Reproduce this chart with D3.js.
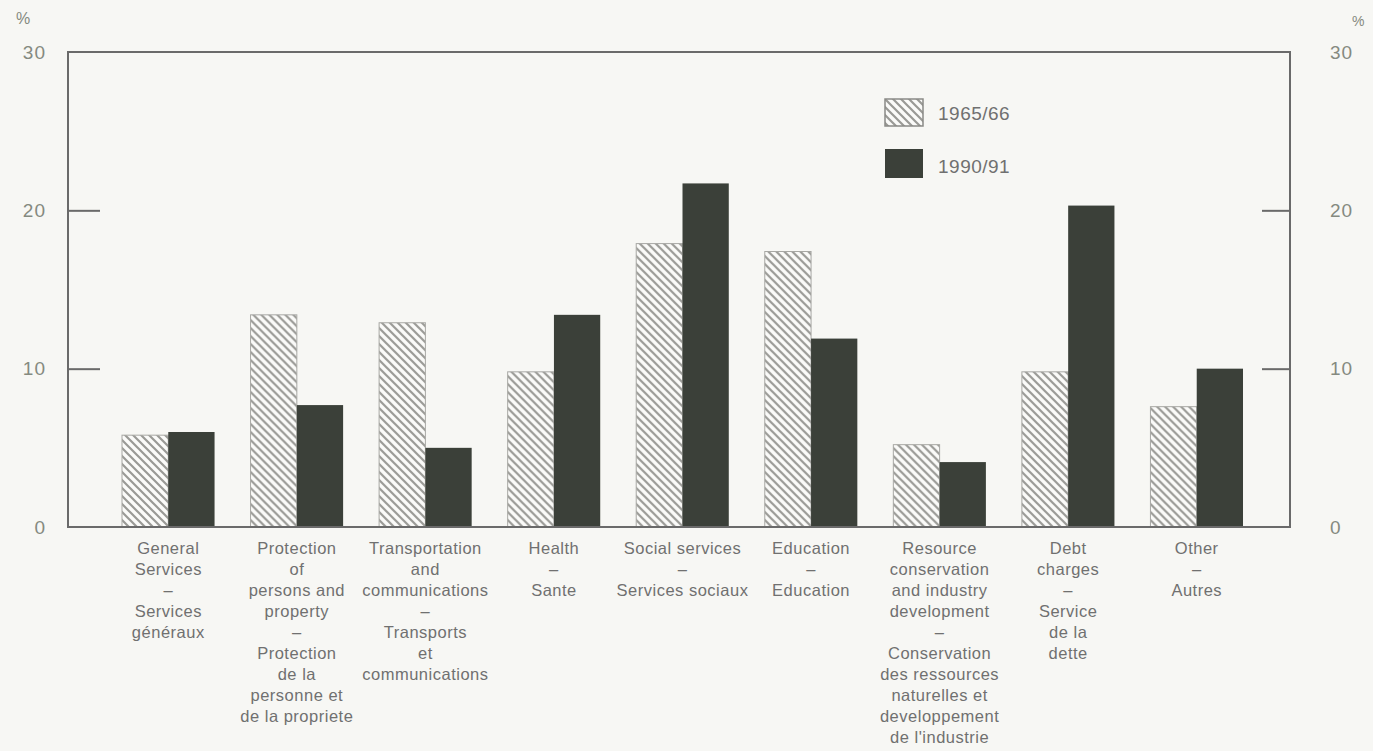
<!DOCTYPE html>
<html>
<head>
<meta charset="utf-8">
<script src="https://cdn.jsdelivr.net/npm/d3@7"></script>
<style>
  html, body { margin: 0; padding: 0; background: #f7f7f4; }
  svg { display: block; }
</style>
</head>
<body>
<div id="chart"></div>
<script>
// Data (percent of total expenditure)
const categories = [
  ["General", "Services", "–", "Services", "généraux"],
  ["Protection", "of", "persons and", "property", "–", "Protection", "de la", "personne et", "de la propriete"],
  ["Transportation", "and", "communications", "–", "Transports", "et", "communications"],
  ["Health", "–", "Sante"],
  ["Social services", "–", "Services sociaux"],
  ["Education", "–", "Education"],
  ["Resource", "conservation", "and industry", "development", "–", "Conservation", "des ressources", "naturelles et", "developpement", "de l'industrie"],
  ["Debt", "charges", "–", "Service", "de la", "dette"],
  ["Other", "–", "Autres"]
];
const series = ["1965/66", "1990/91"];
const values1965 = [5.8, 13.4, 12.9, 9.8, 17.9, 17.4, 5.2, 9.8, 7.6];
const values1990 = [6.0, 7.7, 5.0, 13.4, 21.7, 11.9, 4.1, 20.3, 10.0];
const yTicks = [0, 10, 20, 30];

const W = 1373, H = 751;
const frame = { left: 68, right: 1290, top: 52, bottom: 527 };
const textColor = "#707070";
const lineColor = "#6a6a6a";
const darkFill = "#3b4039";
const font = "Liberation Sans, Arial, sans-serif";

const svg = d3.select("#chart").append("svg")
  .attr("width", W)
  .attr("height", H);

svg.append("rect").attr("width", W).attr("height", H).attr("fill", "#f7f7f4");

// hatch pattern for 1965/66 bars
const defs = svg.append("defs");
const pat = defs.append("pattern")
  .attr("id", "hatch")
  .attr("patternUnits", "userSpaceOnUse")
  .attr("width", 8)
  .attr("height", 8);
pat.append("rect").attr("width", 8).attr("height", 8).attr("fill", "#fbfbf9");
pat.append("path")
  .attr("d", "M-2,6 L2,10 M0,0 L8,8 M6,-2 L10,2")
  .attr("stroke", "#9a9a96")
  .attr("stroke-width", 2.2);

const y = d3.scaleLinear().domain([0, 30]).range([frame.bottom, frame.top]);

const x = d3.scaleBand()
  .domain(d3.range(categories.length))
  .range([104, 1261])
  .paddingInner(0.28)
  .paddingOuter(0.14);

const xs = d3.scaleBand()
  .domain(series)
  .range([0, x.bandwidth()]);

// bars
const groups = svg.append("g").selectAll("g")
  .data(d3.range(categories.length))
  .join("g")
  .attr("transform", i => `translate(${x(i)},0)`);

groups.append("rect")
  .attr("x", xs(series[0]))
  .attr("width", xs.bandwidth())
  .attr("y", i => y(values1965[i]))
  .attr("height", i => y(0) - y(values1965[i]))
  .attr("fill", "url(#hatch)")
  .attr("stroke", "#a8a8a4")
  .attr("stroke-width", 1);

groups.append("rect")
  .attr("x", xs(series[1]))
  .attr("width", xs.bandwidth())
  .attr("y", i => y(values1990[i]))
  .attr("height", i => y(0) - y(values1990[i]))
  .attr("fill", darkFill);

// frame
svg.append("rect")
  .attr("x", frame.left)
  .attr("y", frame.top)
  .attr("width", frame.right - frame.left)
  .attr("height", frame.bottom - frame.top)
  .attr("fill", "none")
  .attr("stroke", lineColor)
  .attr("stroke-width", 2);

// inner ticks on both sides
const leftAxis = svg.append("g")
  .attr("transform", `translate(${frame.left},0)`)
  .call(d3.axisRight(y).tickValues([10, 20]).tickSize(32).tickFormat(""));
const rightAxis = svg.append("g")
  .attr("transform", `translate(${frame.right},0)`)
  .call(d3.axisLeft(y).tickValues([10, 20]).tickSize(28).tickFormat(""));
[leftAxis, rightAxis].forEach(a => {
  a.select(".domain").remove();
  a.selectAll("line").attr("stroke", lineColor).attr("stroke-width", 2);
});

// tick labels
svg.append("g").selectAll("text")
  .data(yTicks)
  .join("text")
  .attr("x", 46)
  .attr("y", d => y(d))
  .attr("dy", "0.35em")
  .attr("text-anchor", "end")
  .attr("fill", "#858a80")
  .style("font-family", font)
  .style("font-size", "19px")
  .style("letter-spacing", "1px")
  .text(d => d);

svg.append("g").selectAll("text")
  .data(yTicks)
  .join("text")
  .attr("x", 1330)
  .attr("y", d => y(d))
  .attr("dy", "0.35em")
  .attr("text-anchor", "start")
  .attr("fill", "#858a80")
  .style("font-family", font)
  .style("font-size", "19px")
  .style("letter-spacing", "1px")
  .text(d => d);

svg.append("text")
  .attr("x", 16).attr("y", 24)
  .attr("fill", "#858a80")
  .style("font-family", font)
  .style("font-size", "16px")
  .text("%");
svg.append("text")
  .attr("x", 1352).attr("y", 26)
  .attr("fill", "#858a80")
  .style("font-family", font)
  .style("font-size", "14px")
  .text("%");

// category labels
const labelG = svg.append("g")
  .style("font-family", font)
  .style("font-size", "16.5px")
  .style("letter-spacing", "0.5px")
  .attr("fill", textColor)
  .attr("text-anchor", "middle");

labelG.selectAll("text")
  .data(categories)
  .join("text")
  .attr("transform", (d, i) => `translate(${x(i) + x.bandwidth() / 2},554)`)
  .selectAll("tspan")
  .data(d => d)
  .join("tspan")
  .attr("x", 0)
  .attr("y", (d, j) => j * 21)
  .text(d => d);

// legend
const legend = svg.append("g").attr("transform", "translate(885,99)");
legend.append("rect")
  .attr("width", 38).attr("height", 27)
  .attr("fill", "url(#hatch)")
  .attr("stroke", "#8a8a86").attr("stroke-width", 1.5);
legend.append("rect")
  .attr("y", 50)
  .attr("width", 38).attr("height", 29)
  .attr("fill", darkFill);
legend.selectAll("text.lg")
  .data(series)
  .join("text")
  .attr("class", "lg")
  .attr("x", 53)
  .attr("y", (d, i) => 14 + i * 53)
  .attr("dy", "0.35em")
  .attr("fill", textColor)
  .style("font-family", font)
  .style("font-size", "19px")
  .style("letter-spacing", "0.5px")
  .text(d => d);
</script>
</body>
</html>
